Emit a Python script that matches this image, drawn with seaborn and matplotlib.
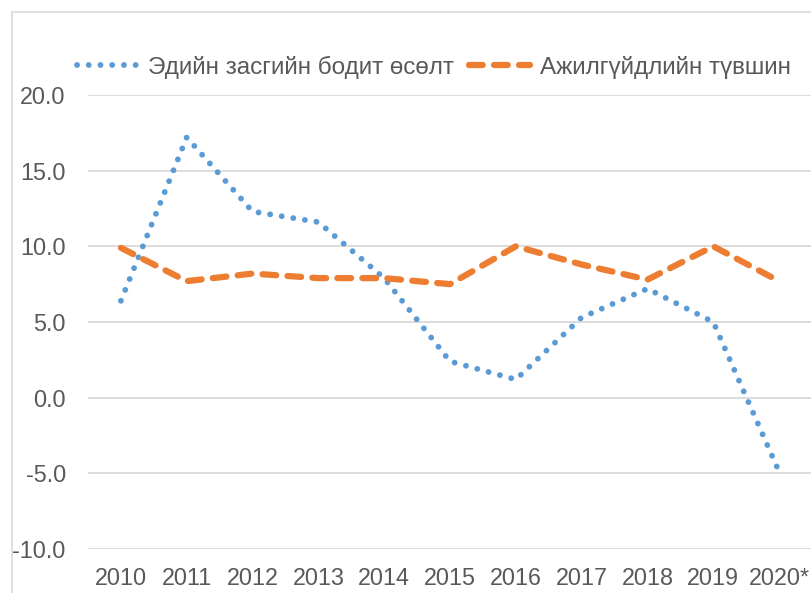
import matplotlib
matplotlib.use("Agg")
import matplotlib.pyplot as plt
import seaborn as sns
import pandas as pd
from matplotlib.patches import Rectangle

years = ["2010", "2011", "2012", "2013", "2014", "2015", "2016", "2017", "2018", "2019", "2020*"]
gdp_growth = [6.4, 17.2, 12.3, 11.6, 7.9, 2.4, 1.2, 5.3, 7.2, 5.0, -4.9]
unemployment = [9.9, 7.7, 8.2, 7.9, 7.9, 7.5, 10.0, 8.8, 7.8, 10.0, 7.7]
gdp_label = "Эдийн засгийн бодит өсөлт"
unemp_label = "Ажилгүйдлийн түвшин"

blue = "#5B9BD5"
orange = "#ED7D31"
text_color = "#595959"

sns.set_style("white")
plt.rcParams["font.family"] = ["Liberation Sans", "DejaVu Sans"]

df = pd.DataFrame({"year": years, "gdp": gdp_growth, "unemp": unemployment})

fig = plt.figure(figsize=(8.12, 5.93), dpi=100)
ax = fig.add_axes([88 / 812, 1 - 549 / 593, 1 - 88 / 812, (549 - 95) / 593])

sns.lineplot(data=df, x="year", y="gdp", ax=ax, color=blue, lw=4.2,
             linestyle=(0, (0.01, 2.0)), dash_capstyle="round",
             label=gdp_label, sort=False)
sns.lineplot(data=df, x="year", y="unemp", ax=ax, color=orange, lw=4.5,
             linestyle=(0, (2.2, 1.8)), dash_capstyle="round",
             label=unemp_label, sort=False)

ax.set_ylim(-10, 20)
ax.set_xlim(-0.5, len(years) - 0.5)
ax.set_yticks([-10, -5, 0, 5, 10, 15, 20])
ax.set_yticklabels([f"{v:.1f}" for v in [-10, -5, 0, 5, 10, 15, 20]])
ax.grid(axis="y", color="#D9D9D9", lw=1.3)
ax.set_axisbelow(True)
for s in ax.spines.values():
    s.set_visible(False)
ax.tick_params(axis="both", length=0, labelsize=16.8, colors=text_color)
ax.tick_params(axis="y", pad=16)
ax.tick_params(axis="x", pad=13)
ax.set_xlabel("")
ax.set_ylabel("")

leg = ax.legend(loc="lower left", bbox_to_anchor=(-0.029, 1.014), ncol=2,
                frameon=False, fontsize=17.5, handlelength=2.5,
                columnspacing=0.65, handletextpad=0.42, borderaxespad=0)
for t in leg.get_texts():
    t.set_color(text_color)

# chart frame
fig.patches.append(Rectangle((12 / 812, -0.1), 2, 1.1 - 12 / 593, transform=fig.transFigure,
                             fill=False, edgecolor="#D9D9D9", lw=1.2))

fig.savefig("out.png", dpi=100)
